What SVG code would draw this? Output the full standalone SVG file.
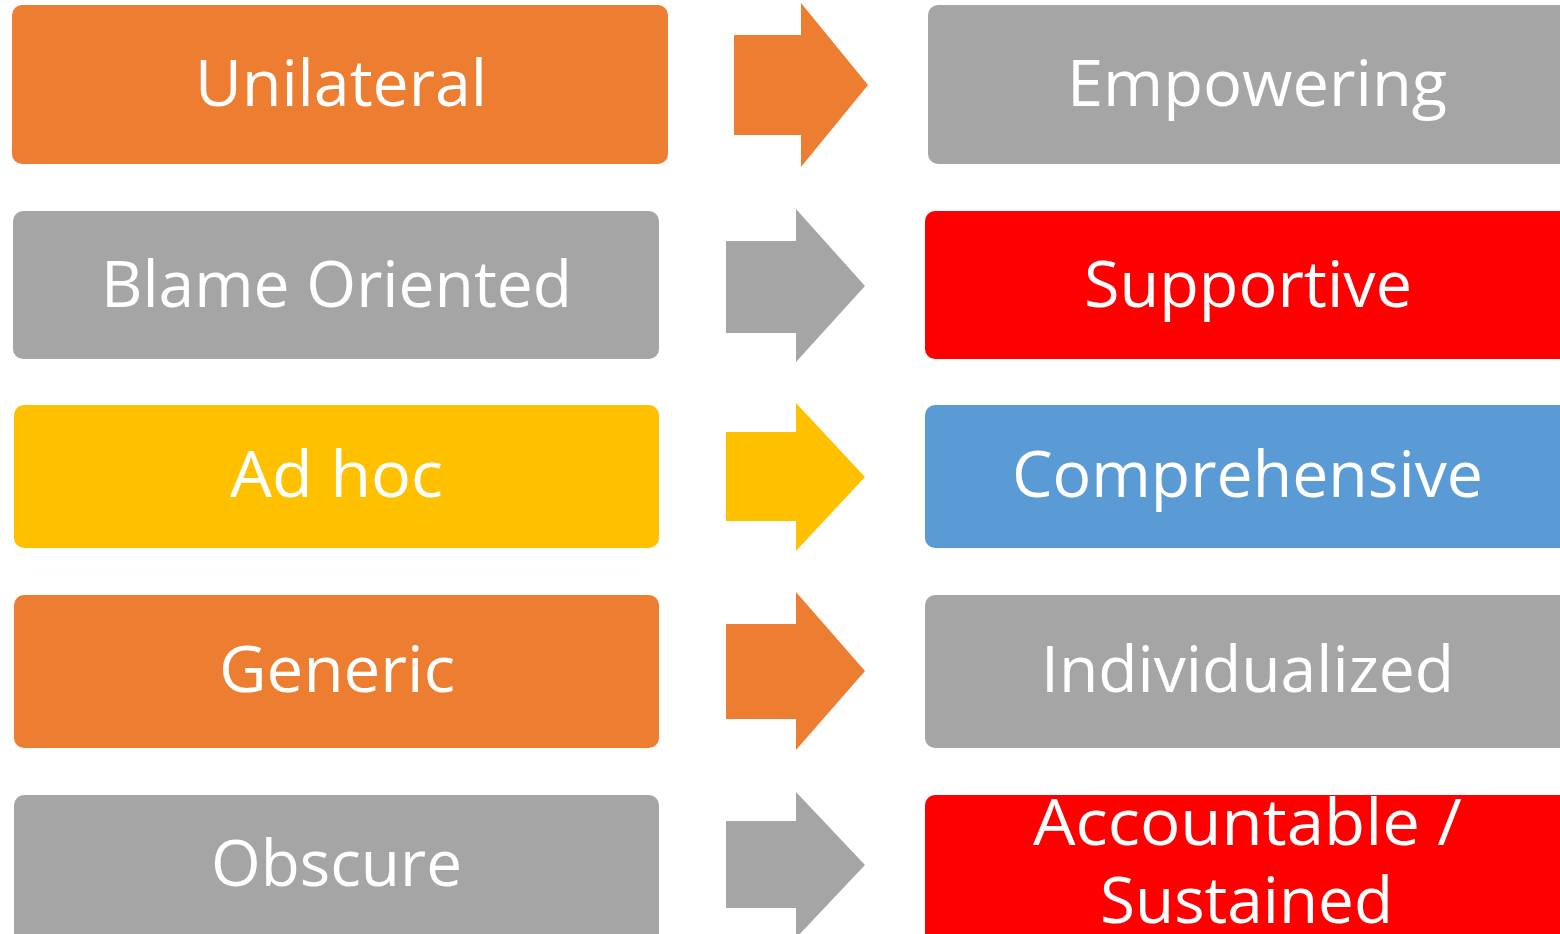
<svg xmlns="http://www.w3.org/2000/svg" width="1560" height="934" viewBox="0 0 1560 934">
<style>
.box{stroke:none}
.orange{fill:#ED7D31}
.gray{fill:#A5A5A5}
.yellow{fill:#FFC000}
.blue{fill:#5B9BD5}
.red{fill:#FF0000}
.lbl{font-family:"Open Sans","Noto Sans","Liberation Sans",sans-serif;font-size:64px;fill:#FFFFFF;text-anchor:middle}
</style>
<rect width="1560" height="934" fill="#FFFFFF"/>
<g id="connectors">
<polygon class="orange" points="734,35 801,35 801,3 868,85 801,167 801,135 734,135"/>
<polygon class="gray" points="726,241 796,241 796,209 865,286 796,362 796,333 726,333"/>
<polygon class="yellow" points="726,432 796,432 796,403 865,477 796,551 796,521 726,521"/>
<polygon class="orange" points="726,624 796,624 796,592 865,671 796,750 796,719 726,719"/>
<polygon class="gray" points="726,821 796,821 796,792 865,865 796,938 796,908 726,908"/>
</g>
<g id="unilateral">
<rect class="box orange" x="12" y="5" width="656" height="159" rx="10"/>
<text class="lbl" x="341" y="106" textLength="292" lengthAdjust="spacingAndGlyphs">Unilateral</text>
</g>
<g id="blame-oriented">
<rect class="box gray" x="13" y="211" width="646" height="148" rx="10"/>
<text class="lbl" x="336.5" y="307" textLength="471" lengthAdjust="spacingAndGlyphs">Blame Oriented</text>
</g>
<g id="ad-hoc">
<rect class="box yellow" x="14" y="405" width="645" height="143" rx="10"/>
<text class="lbl" x="336.5" y="497" textLength="213" lengthAdjust="spacingAndGlyphs">Ad hoc</text>
</g>
<g id="generic">
<rect class="box orange" x="14" y="595" width="645" height="153" rx="10"/>
<text class="lbl" x="337" y="692" textLength="236" lengthAdjust="spacingAndGlyphs">Generic</text>
</g>
<g id="obscure">
<rect class="box gray" x="14" y="795" width="645" height="160" rx="10"/>
<text class="lbl" x="336.5" y="886" textLength="251" lengthAdjust="spacingAndGlyphs">Obscure</text>
</g>
<g id="empowering">
<rect class="box gray" x="928" y="5" width="660" height="159" rx="10"/>
<text class="lbl" x="1257" y="106" textLength="380" lengthAdjust="spacingAndGlyphs">Empowering</text>
</g>
<g id="supportive">
<rect class="box red" x="925" y="211" width="660" height="148" rx="10"/>
<text class="lbl" x="1248" y="307" textLength="328" lengthAdjust="spacingAndGlyphs">Supportive</text>
</g>
<g id="comprehensive">
<rect class="box blue" x="925" y="405" width="660" height="143" rx="10"/>
<text class="lbl" x="1247.5" y="497" textLength="471" lengthAdjust="spacingAndGlyphs">Comprehensive</text>
</g>
<g id="individualized">
<rect class="box gray" x="925" y="595" width="660" height="153" rx="10"/>
<text class="lbl" x="1247.5" y="692" textLength="413" lengthAdjust="spacingAndGlyphs">Individualized</text>
</g>
<g id="accountable-sustained">
<rect class="box red" x="925" y="795" width="660" height="160" rx="10"/>
<text class="lbl" x="1247.5" y="845" textLength="429" lengthAdjust="spacingAndGlyphs">Accountable /</text>
<text class="lbl" x="1246.5" y="923" textLength="293" lengthAdjust="spacingAndGlyphs">Sustained</text>
</g>
</svg>
